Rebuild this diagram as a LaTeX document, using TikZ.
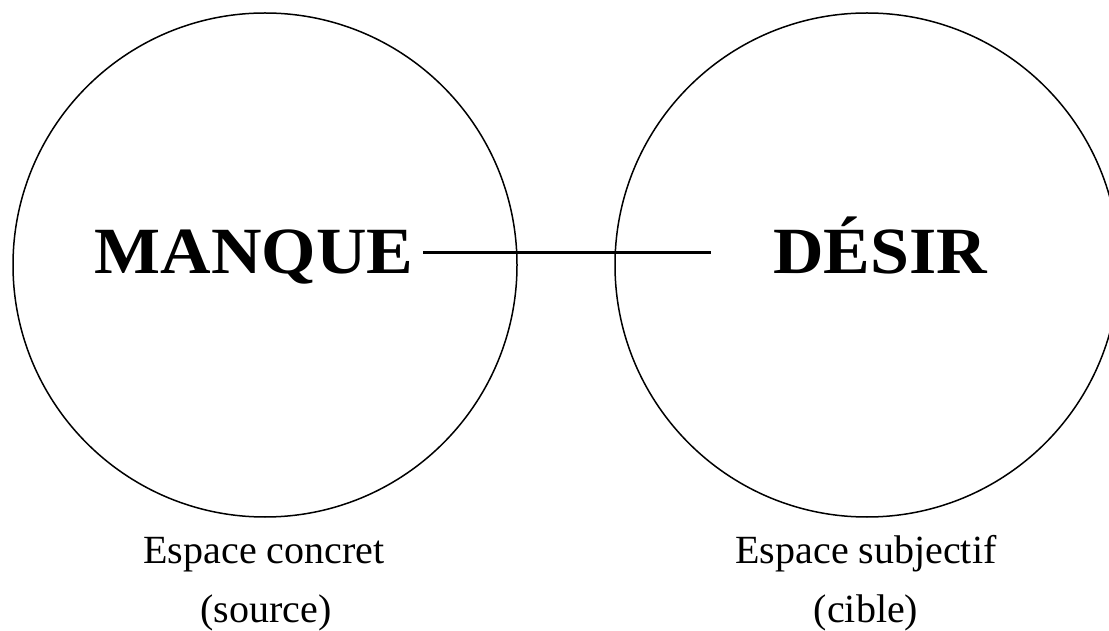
\documentclass[tikz,border=0pt]{standalone}
\usepackage{fontspec}
\setmainfont{Liberation Serif}
\begin{document}
\begin{tikzpicture}[x=1pt,y=1pt,
  ring/.style={circle,draw,line width=1.5pt,minimum size=504pt,inner sep=0pt},
  bigword/.style={font=\fontsize{66}{70}\selectfont\bfseries,anchor=base,inner sep=0pt,inner xsep=9pt,xscale=1.06},
  caption/.style={font=\fontsize{40}{44}\selectfont,anchor=base,inner sep=0pt},
  link/.style={line width=3pt}]
\useasboundingbox (0,0) rectangle (1109,630);
\clip (0,0) rectangle (1109,630);
\node[ring] (src) at (265,365) {};
\node[ring] (tgt) at (867,365) {};
\node[bigword] (manque) at (254,356) {MANQUE};
\node[bigword] (desir) at (880,356) {DÉSIR};
\coordinate (lineend) at (711,377);
\draw[link] (manque.east |- lineend) -- (lineend);
\node[caption] (c1) at (264,67) {Espace concret};
\node[caption] (c2) at (266,8) {(source)};
\node[caption] (c3) at (866,67) {Espace subjectif};
\node[caption] (c4) at (866,8) {(cible)};
\end{tikzpicture}
\end{document}
